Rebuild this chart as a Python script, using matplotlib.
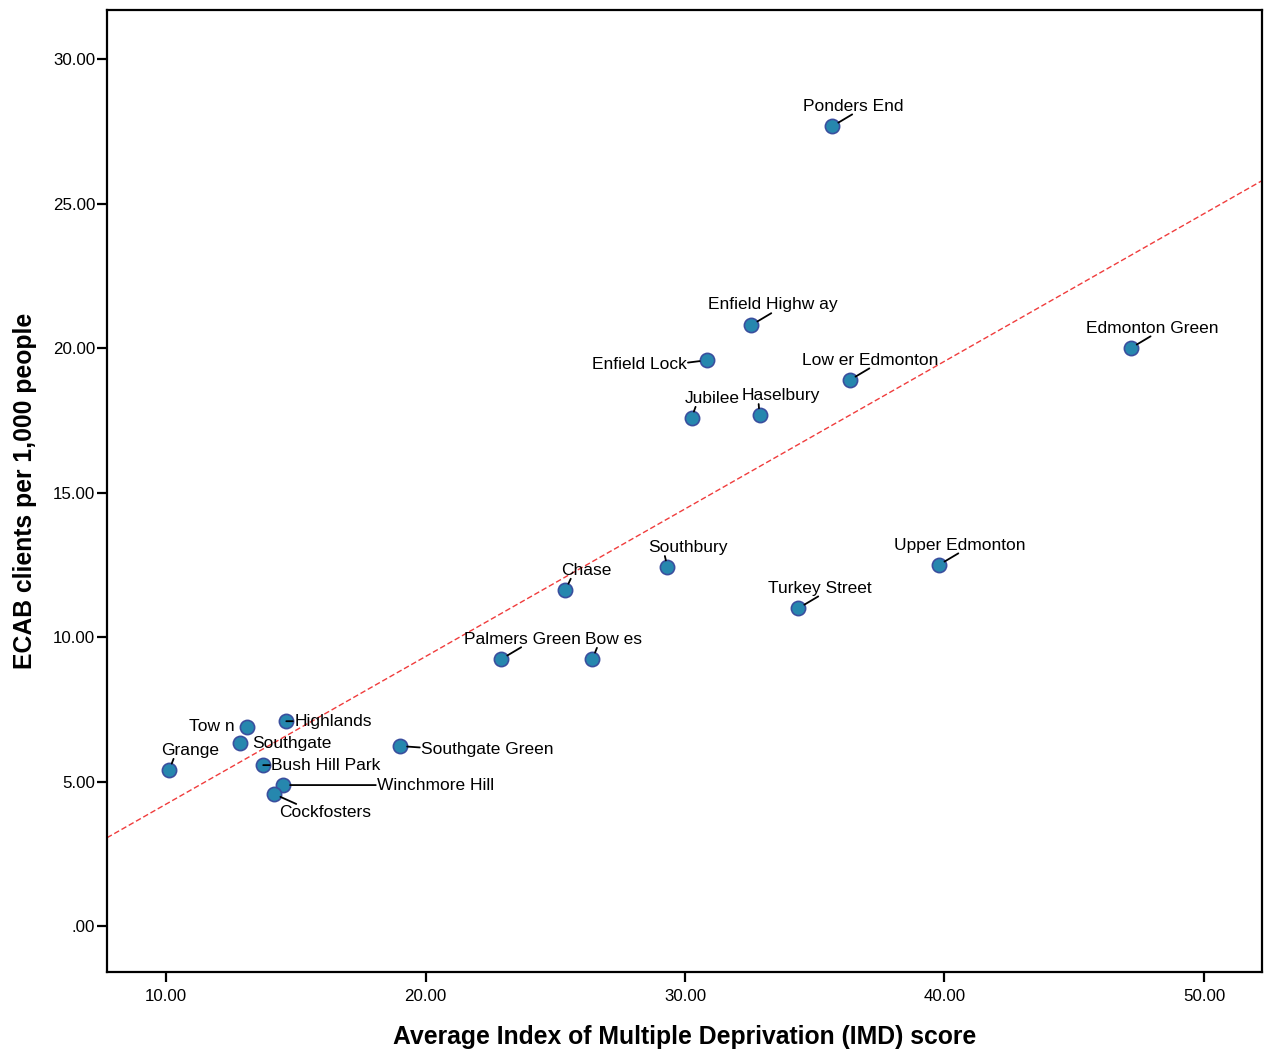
import matplotlib
matplotlib.use("Agg")
import matplotlib.pyplot as plt
import numpy as np

plt.rcParams["font.family"] = ["Liberation Sans", "DejaVu Sans"]

# Ward-level values: IMD score vs ECAB clients per 1,000 people
wards = [
    "Grange", "Tow n", "Southgate", "Highlands", "Bush Hill Park",
    "Winchmore Hill", "Cockfosters", "Southgate Green", "Palmers Green",
    "Bow es", "Chase", "Southbury", "Jubilee", "Enfield Lock",
    "Enfield Highw ay", "Haselbury", "Ponders End", "Turkey Street",
    "Low er Edmonton", "Upper Edmonton", "Edmonton Green",
]
imd_score = [
    10.12, 13.12, 12.85, 14.63, 13.74,
    14.51, 14.16, 19.02, 22.92,
    26.43, 25.39, 29.32, 30.25, 30.83,
    32.56, 32.87, 35.68, 34.37,
    36.34, 39.77, 47.18,
]
clients_per_1000 = [
    5.40, 6.89, 6.33, 7.09, 5.57,
    4.88, 4.57, 6.23, 9.24,
    9.24, 11.63, 12.42, 17.58, 19.58,
    20.80, 17.68, 27.68, 11.00,
    18.89, 12.49, 20.00,
]

x_ticks = [10, 20, 30, 40, 50]
y_ticks = [0, 5, 10, 15, 20, 25, 30]

# label placement: (dx, dy) in pixels, horizontal alignment, leader anchor on text
DEFAULT_LABEL = ((21, 20), "center", (0.5, 0.0), True)
LABEL_STYLE = {
    "Grange": ((21, 20), "center", (0.22, 0.0), True),
    "Chase": ((21, 20), "center", (0.2, 0.0), True),
    "Bow es": ((21, 20), "center", (0.22, 0.0), True),
    "Southbury": ((21, 20), "center", (0.2, 0.0), True),
    "Jubilee": ((21, 20), "center", (0.2, 0.0), True),
    "Haselbury": ((21, 20), "center", (0.22, 0.0), True),
    "Tow n": ((-12, 0), "right", (1.0, 0.5), False),
    "Southgate": ((12, 0), "left", (0.0, 0.5), False),
    "Highlands": ((8, 0), "left", (0.0, 0.5), True),
    "Bush Hill Park": ((8, 0), "left", (0.0, 0.5), True),
    "Winchmore Hill": ((94, 0), "left", (0.0, 0.5), True),
    "Cockfosters": ((51, -18), "center", (0.2, 1.0), True),
    "Southgate Green": ((21, -3), "left", (0.0, 0.6), True),
    "Enfield Lock": ((-20, -4), "right", (1.0, 0.6), True),
}

fig = plt.figure(figsize=(12.68, 10.52), dpi=100)
ax = fig.add_axes([0.0844, 0.076, 0.9109, 0.9145])

ax.set_xlim(7.72, 52.24)
ax.set_ylim(-1.59, 31.7)

# least-squares fit line
slope, intercept = np.polyfit(imd_score, clients_per_1000, 1)
fx = np.array(ax.get_xlim())
ax.plot(fx, intercept + slope * fx, color="#f03c3c", lw=1.0,
        linestyle=(0, (4, 2)), zorder=1)

ax.scatter(imd_score, clients_per_1000, s=105, facecolor="#2687ae",
           edgecolor="#3a4f9e", linewidth=1.2, zorder=3)

for name, xv, yv in zip(wards, imd_score, clients_per_1000):
    (dx, dy), ha, relpos, leader = LABEL_STYLE.get(name, DEFAULT_LABEL)
    arrow = None
    if leader:
        arrow = dict(arrowstyle="-", color="black", lw=1.3, patchA=None,
                     relpos=relpos, shrinkA=1, shrinkB=5)
    ax.annotate(name, xy=(xv, yv), xytext=(dx, dy), textcoords="offset pixels",
                ha=ha, va="center", fontsize=12.5, color="black",
                arrowprops=arrow, zorder=4)

ax.set_xticks(x_ticks)
ax.set_xticklabels([f"{t:.2f}" for t in x_ticks])
ax.set_yticks(y_ticks)
ax.set_yticklabels([f"{t:.2f}".lstrip("0") if t == 0 else f"{t:.2f}" for t in y_ticks])
ax.tick_params(axis="both", direction="out", length=7.5, width=1.6,
               labelsize=12.2, color="black")
ax.tick_params(axis="x", pad=5)
ax.tick_params(axis="y", pad=1)

for side in ["left", "bottom", "top", "right"]:
    ax.spines[side].set_linewidth(1.6)
    ax.spines[side].set_color("black")

ax.set_xlabel("Average Index of Multiple Deprivation (IMD) score",
              fontsize=17.8, fontweight="bold", va="center")
ax.set_ylabel("ECAB clients per 1,000 people",
              fontsize=17.8, fontweight="bold", va="center")
ax.xaxis.set_label_coords(0.5, -0.0676)
ax.yaxis.set_label_coords(-0.071, 0.5)

fig.savefig("out.png", dpi=100)
